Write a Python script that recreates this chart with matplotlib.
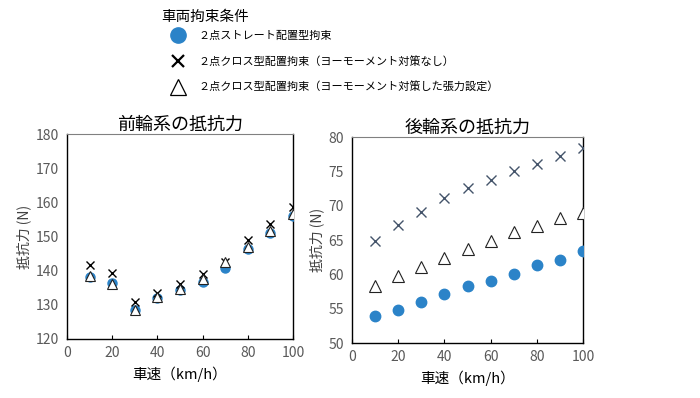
import matplotlib
matplotlib.use("Agg")
import matplotlib.pyplot as plt
from matplotlib.lines import Line2D

plt.rcParams['font.family'] = ['Noto Sans CJK JP', 'DejaVu Sans']

speed = [10, 20, 30, 40, 50, 60, 70, 80, 90, 100]

front_straight = [138.2, 136.4, 128.4, 132.0, 134.3, 136.8, 140.9, 146.2, 151.1, 156.0]
front_cross = [141.8, 139.4, 130.9, 133.6, 136.2, 138.9, 142.5, 149.0, 153.6, 158.7]
front_tension = [138.3, 136.2, 128.6, 132.2, 134.6, 137.6, 142.6, 147.0, 151.6, 156.6]

rear_straight = [53.9, 54.8, 56.0, 57.2, 58.3, 59.0, 60.0, 61.4, 62.1, 63.4]
rear_cross = [64.9, 67.2, 69.1, 71.1, 72.6, 73.7, 75.1, 76.0, 77.2, 78.4]
rear_tension = [58.3, 59.7, 61.0, 62.4, 63.7, 64.8, 66.1, 67.1, 68.2, 68.9]

legend_title = "車両拘束条件"
labels = ["２点ストレート配置型拘束",
          "２点クロス型配置拘束（ヨーモーメント対策なし）",
          "２点クロス型配置拘束（ヨーモーメント対策した張力設定）"]

blue = '#2B83C8'
navy = '#44546A'
gray = '#595959'

fig = plt.figure(figsize=(7, 3.98), dpi=100)
ax1 = fig.add_axes([67/700, 1-339/398, 226/700, 205/398])
ax2 = fig.add_axes([352/700, 1-343/398, 231/700, 206/398])

def style(ax, ylim, yticks, title):
    ax.set_xlim(0, 100)
    ax.set_ylim(*ylim)
    ax.set_xticks([0, 20, 40, 60, 80, 100])
    ax.set_yticks(yticks)
    ax.tick_params(axis='x', direction='in', length=3, colors='black', labelcolor=gray, labelsize=10, pad=5)
    ax.tick_params(axis='y', length=0, labelcolor=gray, labelsize=10, pad=6)
    for s in ['left', 'bottom', 'right']:
        ax.spines[s].set_color('black')
        ax.spines[s].set_linewidth(1.0)
    ax.spines['top'].set_color('#808080')
    ax.set_title(title, fontsize=13, pad=3)
    ax.set_xlabel("車速（km/h）", fontsize=10.5, labelpad=5)
    ax.set_ylabel("抵抗力 (N)", fontsize=10, color='#404040', labelpad=3)

# front
ax1.plot(speed, front_straight, 'o', color=blue, markersize=6.5, linestyle='none', zorder=3)
ax1.plot(speed, front_cross, 'x', color='black', markersize=5.5, markeredgewidth=1.0, linestyle='none', zorder=4)
ax1.plot(speed, front_tension, '^', markerfacecolor='white', markeredgecolor='#222222', markersize=7, markeredgewidth=0.8, linestyle='none', zorder=5)
style(ax1, (120, 180), [120, 130, 140, 150, 160, 170, 180], "前輪系の抵抗力")

# rear
ax2.plot(speed, rear_straight, 'o', color=blue, markersize=7.5, linestyle='none', zorder=3)
ax2.plot(speed, rear_cross, 'x', color=navy, markersize=7, markeredgewidth=1.0, linestyle='none', zorder=4)
ax2.plot(speed, rear_tension, '^', markerfacecolor='white', markeredgecolor='#222222', markersize=8, markeredgewidth=0.8, linestyle='none', zorder=5)
style(ax2, (50, 80), [50, 55, 60, 65, 70, 75, 80], "後輪系の抵抗力")

fig.text(161/700, 1-17/398, legend_title, fontsize=10.5, ha='left', va='center')

handles = [
    Line2D([], [], marker='o', color=blue, linestyle='none', markersize=11),
    Line2D([], [], marker='x', color='black', linestyle='none', markersize=9, markeredgewidth=1.6),
    Line2D([], [], marker='^', markerfacecolor='white', markeredgecolor='black', linestyle='none', markersize=12, markeredgewidth=0.9),
]
leg = fig.legend(handles, labels, loc='upper left',
                 bbox_to_anchor=(167/700, 1-31/398), frameon=False,
                 fontsize=8, labelspacing=1.35,
                 handletextpad=0.8, borderaxespad=0, borderpad=0)

fig.savefig('out.png', dpi=100)
